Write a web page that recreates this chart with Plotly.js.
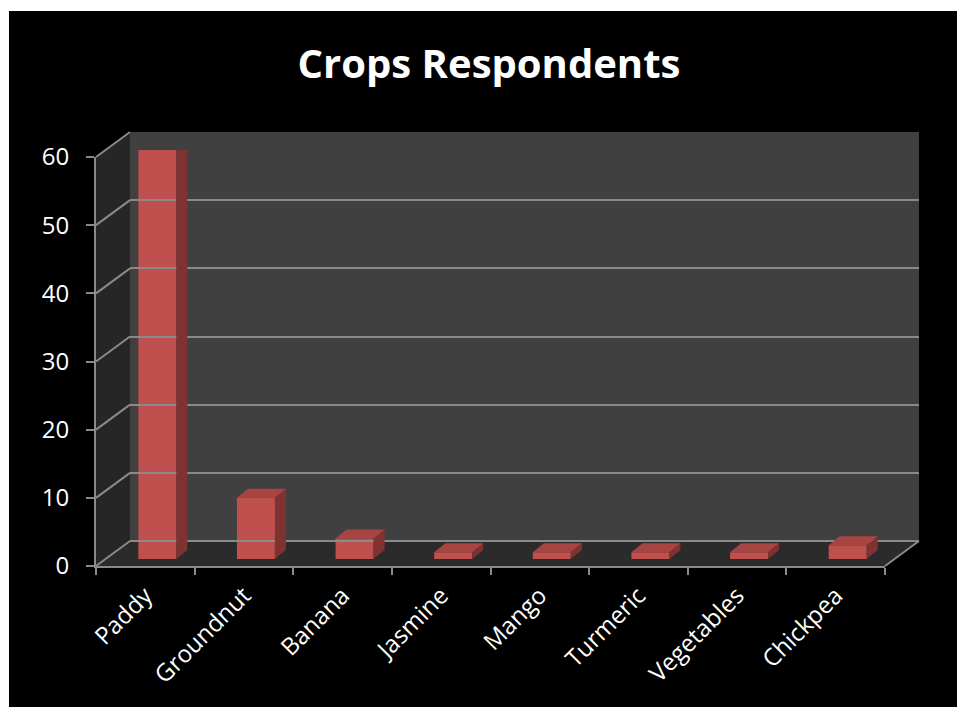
<!DOCTYPE html>
<html>
<head>
<meta charset="utf-8">
<script src="https://cdn.plot.ly/plotly-3.0.1.min.js"></script>
<style>
  html, body { margin: 0; padding: 0; background: #ffffff; width: 957px; height: 707px; overflow: hidden; }
  #chart { position: absolute; left: 9px; top: 11px; width: 948px; height: 696px; }
</style>
</head>
<body>
<div id="chart"></div>
<script>
// ---- data ----
const categories = ["Paddy", "Groundnut", "Banana", "Jasmine", "Mango", "Turmeric", "Vegetables", "Chickpea"];
const respondents = [60, 9, 3, 1, 1, 1, 1, 2];
const yTicks = [0, 10, 20, 30, 40, 50, 60];
const chartTitle = "Crops Respondents";

// ---- geometry (pixels inside the chart div) ----
const W = 948, H = 696;
const fx = px => px / W;
const fy = py => 1 - py / H;
const front = {x0: 87, x1: 876, yTop: 146, yBot: 555};
const depth = {dx: 34, dy: 25};            // front plane -> back wall
const barShift = {dx: 12, dy: 7};          // front plane -> bar front faces
const barW = 0.385;
const barDepthPx = 11, barDepthUp = 9;
const yMax = 60;
const pxPerUnit = (front.yBot - front.yTop) / yMax;
const dyData = barDepthUp / pxPerUnit;
const barWpx = barW * (front.x1 - front.x0) / categories.length;

const back = {x0: front.x0 + depth.dx, x1: front.x1 + depth.dx, yTop: front.yTop - depth.dy, yBot: front.yBot - depth.dy};

const grey = '#8a8a8a';
const red = '#C0504D', redSide = '#7E3331', redTop = '#A84542';

const shapes = [];
function poly(pts, fill, lineColor, lw) {
  let d = 'M' + pts.map(p => fx(p[0]) + ',' + fy(p[1])).join(' L') + ' Z';
  shapes.push({type: 'path', xref: 'paper', yref: 'paper', path: d, fillcolor: fill,
               line: {color: lineColor || 'rgba(0,0,0,0)', width: lw || 0}, layer: 'below'});
}
function seg(a, b, color, lw) {
  shapes.push({type: 'line', xref: 'paper', yref: 'paper', x0: fx(a[0]), y0: fy(a[1]), x1: fx(b[0]), y1: fy(b[1]),
               line: {color: color, width: lw}, layer: 'below'});
}
// back wall
poly([[back.x0, back.yTop], [back.x1, back.yTop], [back.x1, back.yBot], [back.x0, back.yBot]], '#404040');
// left side wall
poly([[front.x0, front.yTop], [back.x0, back.yTop], [back.x0, back.yBot], [front.x0, front.yBot]], '#262626');
// floor
poly([[front.x0, front.yBot], [front.x1, front.yBot], [back.x1, back.yBot], [back.x0, back.yBot]], '#2b2b2b');
// side wall diagonals at tick values
yTicks.forEach(v => {
  const yf = front.yBot - v * pxPerUnit;
  seg([front.x0, yf], [back.x0, yf - depth.dy], grey, 2);
});
// floor right edge
seg([front.x1, front.yBot], [back.x1, back.yBot], grey, 2);

// 3D side and top faces of bars, anchored in data coordinates
categories.forEach((c, i) => {
  const v = respondents[i];
  shapes.push({type: 'path', xref: 'x', yref: 'y', xsizemode: 'pixel', xanchor: i + barW / 2,
    path: `M0,0 L${barDepthPx},${dyData} L${barDepthPx},${v + dyData} L0,${v} Z`,
    fillcolor: redSide, line: {width: 0}, layer: 'above'});
  shapes.push({type: 'path', xref: 'x', yref: 'y', xsizemode: 'pixel', xanchor: i - barW / 2,
    path: `M0,${v} L${barWpx},${v} L${barWpx + barDepthPx},${v + dyData} L${barDepthPx},${v + dyData} Z`,
    fillcolor: redTop, line: {width: 0}, layer: 'above'});
});

const tickFont = {family: 'Open Sans, sans-serif', size: 24, color: '#ffffff'};

const traces = [
  { // bar front faces
    type: 'bar', x: categories, y: respondents, xaxis: 'x', yaxis: 'y',
    width: barW, marker: {color: red, line: {width: 0}}, hoverinfo: 'x+y'
  },
  { // front plane axis carrier (invisible)
    type: 'scatter', mode: 'markers', x: categories, y: respondents, xaxis: 'x2', yaxis: 'y2',
    marker: {opacity: 0}, hoverinfo: 'skip', showlegend: false
  },
  { // back wall grid carrier (invisible)
    type: 'scatter', mode: 'markers', x: categories, y: respondents, xaxis: 'x3', yaxis: 'y3',
    marker: {opacity: 0}, hoverinfo: 'skip', showlegend: false
  }
];

const layout = {
  width: W, height: H,
  paper_bgcolor: '#000000', plot_bgcolor: 'rgba(0,0,0,0)',
  margin: {l: 0, r: 0, t: 0, b: 0},
  showlegend: false,
  title: {text: '<b>' + chartTitle + '</b>', x: 480 / W, xanchor: 'center', xref: 'container',
          y: 1 - 53 / H, yanchor: 'middle', yref: 'container',
          font: {family: 'Open Sans, sans-serif', size: 40, color: '#ffffff'}},
  xaxis: {domain: [fx(front.x0 + barShift.dx), fx(front.x1 + barShift.dx)], anchor: 'y', type: 'category',
          categoryarray: categories, range: [-0.5, categories.length - 0.5], visible: false, fixedrange: true},
  yaxis: {domain: [fy(front.yBot - barShift.dy), fy(front.yTop - barShift.dy)], anchor: 'x', range: [0, yMax],
          visible: false, fixedrange: true},
  xaxis2: {domain: [fx(front.x0), fx(front.x1)], anchor: 'y2', type: 'category', categoryarray: categories,
           range: [-0.5, categories.length - 0.5], tickson: 'boundaries', ticks: 'outside', ticklen: 7,
           tickwidth: 2, tickcolor: grey, showline: true, linecolor: grey, linewidth: 2, showgrid: false,
           tickangle: -45, tickfont: tickFont, ticklabelstandoff: 4, fixedrange: true},
  yaxis2: {domain: [fy(front.yBot), fy(front.yTop)], anchor: 'x2', range: [0, yMax], tickvals: yTicks,
           ticks: 'outside', ticklen: 8, tickwidth: 2, tickcolor: grey, showline: true, linecolor: grey,
           linewidth: 2, showgrid: false, zeroline: false, tickfont: tickFont, ticklabelstandoff: 12,
           fixedrange: true},
  xaxis3: {domain: [fx(back.x0), fx(back.x1)], anchor: 'y3', type: 'category', categoryarray: categories,
           range: [-0.5, categories.length - 0.5], visible: false, fixedrange: true},
  yaxis3: {domain: [fy(back.yBot), fy(back.yTop)], anchor: 'x3', range: [0, yMax], tickvals: yTicks,
           showgrid: true, gridcolor: grey, gridwidth: 2, zeroline: true, zerolinecolor: grey, zerolinewidth: 2,
           showticklabels: false, ticks: '', showline: false, fixedrange: true},
  shapes: shapes
};

Plotly.newPlot('chart', traces, layout, {displayModeBar: false, staticPlot: true});
</script>
</body>
</html>
